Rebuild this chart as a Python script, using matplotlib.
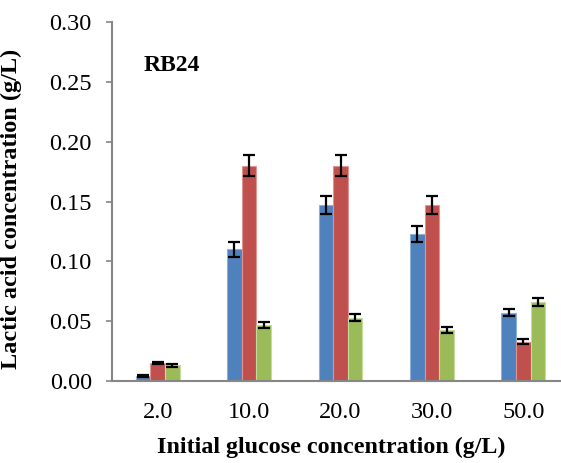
import matplotlib
matplotlib.use("Agg")
import matplotlib.pyplot as plt
import numpy as np

categories = ["2.0", "10.0", "20.0", "30.0", "50.0"]
blue_vals = [0.004, 0.110, 0.147, 0.123, 0.057]
blue_err = [0.001, 0.006, 0.0075, 0.0065, 0.003]
red_vals = [0.015, 0.180, 0.180, 0.147, 0.033]
red_err = [0.001, 0.009, 0.009, 0.0075, 0.002]
green_vals = [0.013, 0.047, 0.053, 0.043, 0.066]
green_err = [0.001, 0.0025, 0.003, 0.0025, 0.0035]
yticks = [0.00, 0.05, 0.10, 0.15, 0.20, 0.25, 0.30]

plt.rcParams['font.family'] = ['Liberation Serif', 'DejaVu Serif']

fig = plt.figure(figsize=(5.61, 4.63), dpi=100)
ax = fig.add_axes([112/561, 82/463, 457/561, 359/463])

x = np.arange(len(categories))
w = 0.16
series = [(blue_vals, blue_err, "#4F81BD", "#8DB0DA"),
          (red_vals, red_err, "#C0504D", "#DC9593"),
          (green_vals, green_err, "#9BBB59", "#C6DB9B")]
for i, (vals, errs, col, ec) in enumerate(series):
    ax.bar(x + (i - 1) * w, vals, w, color=col, edgecolor=ec, linewidth=0.8,
           yerr=errs, error_kw=dict(ecolor='black', elinewidth=1.6, capsize=4.5, capthick=1.6),
           zorder=2)

ax.set_xlim(-0.5, len(categories) - 0.5)
ax.set_ylim(0, 0.30)
ax.set_yticks(yticks)
ax.set_yticklabels([f"{v:.2f}" for v in yticks])
ax.set_xticks(x)
ax.set_xticklabels(categories)

for s in ['top', 'right']:
    ax.spines[s].set_visible(False)
for s in ['left', 'bottom']:
    ax.spines[s].set_color('#868686')
    ax.spines[s].set_linewidth(1.5)
ax.tick_params(axis='y', direction='out', length=4.5, width=1.2, color='#868686',
               labelsize=17.5, pad=10)
ax.tick_params(axis='x', length=0, labelsize=17.5, pad=15)

ax.set_xlabel("Initial glucose concentration (g/L)", fontsize=17.3, fontweight='bold')
ax.xaxis.set_label_coords(0.48, -0.155)
ax.set_ylabel("Lactic acid concentration (g/L)", fontsize=17.5, fontweight='bold')
ax.yaxis.set_label_coords(-0.198, 0.48)

ax.text(0.069, 0.88, "RB24", transform=ax.transAxes, fontsize=17, fontweight='bold',
        ha='left', va='center')

fig.savefig("out.png", dpi=100)
